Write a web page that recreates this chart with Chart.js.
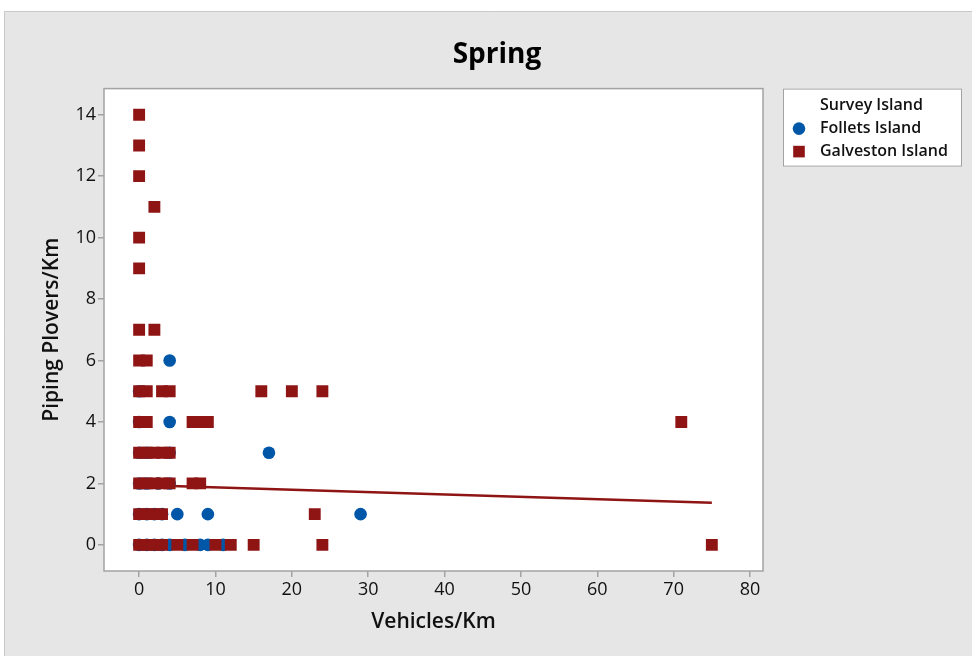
<!DOCTYPE html>
<html>
<head>
<meta charset="utf-8">
<title>Spring</title>
<script src="https://cdn.jsdelivr.net/npm/chart.js@4.4.1/dist/chart.umd.min.js"></script>
<style>
  html, body { margin: 0; padding: 0; background: #ffffff; }
  canvas { display: block; }
</style>
</head>
<body>
<canvas id="chart" width="972" height="656"></canvas>
<script>
// Survey counts per km of beach: vehicles vs. piping plovers
const follettsVehicles = [4, 0, 0, 4, 0, 1, 4, 17, 0, 1, 2.5, 4, 0, 1, 2, 3, 5, 9, 29, 0, 1, 2, 3, 4, 6, 8, 9, 11];
const follettsPlovers  = [6, 5, 4, 4, 3, 3, 3, 3,  2, 2, 2,   2, 1, 1, 1, 1, 1, 1, 1,  0, 0, 0, 0, 0, 0, 0, 0, 0];

const galvestonVehicles = [0, 0, 0, 2, 0, 0, 0, 2,
                           0, 1,
                           0, 1, 3, 4, 16, 20, 24,
                           0, 1, 7, 8, 9, 71,
                           0, 1, 2, 3, 4,
                           0, 1, 2, 3, 4, 7, 8,
                           0, 1, 2, 3, 23,
                           0, 1, 2, 3, 5, 7, 10, 12, 15, 24, 75];
const galvestonPlovers  = [14, 13, 12, 11, 10, 9, 7, 7,
                           6, 6,
                           5, 5, 5, 5, 5, 5, 5,
                           4, 4, 4, 4, 4, 4,
                           3, 3, 3, 3, 3,
                           2, 2, 2, 2, 2, 2, 2,
                           1, 1, 1, 1, 1,
                           0, 0, 0, 0, 0, 0, 0, 0, 0, 0, 0];

// Fitted regression line end points
const fitVehicles = [0, 75];
const fitPlovers  = [1.95, 1.37];

const xTickValues = [0, 10, 20, 30, 40, 50, 60, 70, 80];
const yTickValues = [0, 2, 4, 6, 8, 10, 12, 14];

const legendTitle = 'Survey Island';
const FOLLETS_BLUE = '#0057a8';
const GALVESTON_RED = '#8f1414';
const AXIS_GRAY = '#a3a3a3';
const TEXT = '#111111';
const FONT = "'Open Sans', 'Noto Sans', sans-serif";

const pairs = (xs, ys) => xs.map((x, i) => ({ x, y: ys[i] }));

// Gray page frame, white plotting panel and its border
const framePlugin = {
  id: 'frame',
  beforeDraw(chart) {
    const { ctx, chartArea: a, width, height } = chart;
    ctx.save();
    ctx.fillStyle = '#ffffff';
    ctx.fillRect(0, 0, width, height);
    ctx.fillStyle = '#e6e6e6';
    ctx.fillRect(4, 11, width - 4, height - 11);
    ctx.strokeStyle = '#c9c9c9';
    ctx.lineWidth = 1;
    ctx.beginPath();
    ctx.moveTo(4.5, height);
    ctx.lineTo(4.5, 11.5);
    ctx.lineTo(width, 11.5);
    ctx.stroke();
    ctx.fillStyle = '#ffffff';
    ctx.fillRect(a.left, a.top, a.right - a.left, a.bottom - a.top);
    ctx.restore();
  },
  afterDatasetsDraw(chart) {
    const { ctx, chartArea: a } = chart;
    ctx.save();
    ctx.strokeStyle = AXIS_GRAY;
    ctx.lineWidth = 1.5;
    ctx.strokeRect(a.left, a.top, a.right - a.left, a.bottom - a.top);
    ctx.restore();
  }
};

// Boxed legend to the right of the plotting panel
const islandLegendPlugin = {
  id: 'islandLegend',
  afterDraw(chart) {
    const { ctx, chartArea: a } = chart;
    const left = a.right + 20, top = a.top, w = 179, h = 78;
    ctx.save();
    ctx.fillStyle = '#ffffff';
    ctx.fillRect(left, top, w, h);
    ctx.strokeStyle = AXIS_GRAY;
    ctx.lineWidth = 1;
    ctx.strokeRect(left + 0.5, top + 0.5, w - 1, h - 1);

    ctx.font = `600 16px ${FONT}`;
    ctx.fillStyle = TEXT;
    ctx.textBaseline = 'middle';
    ctx.textAlign = 'left';
    const textX = left + 37;
    ctx.fillText(legendTitle, textX, top + 17);

    const items = chart.data.datasets.filter(d => d.inLegend);
    items.forEach((ds, i) => {
      const cy = top + 40 + i * 23;
      const cx = left + 16;
      ctx.fillStyle = ds.backgroundColor;
      if (ds.pointStyle === 'circle') {
        ctx.beginPath();
        ctx.arc(cx, cy, 6.3, 0, Math.PI * 2);
        ctx.fill();
      } else {
        ctx.fillRect(cx - 5.8, cy - 5.8, 11.6, 11.6);
      }
      ctx.fillStyle = TEXT;
      ctx.fillText(ds.label, textX, cy);
    });
    ctx.restore();
  }
};

const tickGrid = {
  display: true,
  drawOnChartArea: false,
  drawTicks: true,
  tickLength: 6,
  color: AXIS_GRAY,
  lineWidth: 1.5
};

new Chart(document.getElementById('chart'), {
  type: 'scatter',
  data: {
    datasets: [
      {
        label: 'Follets Island',
        inLegend: true,
        data: pairs(follettsVehicles, follettsPlovers),
        pointStyle: 'circle',
        pointRadius: 6.3,
        backgroundColor: FOLLETS_BLUE,
        borderWidth: 0,
        pointBorderWidth: 0,
        order: 1
      },
      {
        label: 'Galveston Island',
        inLegend: true,
        data: pairs(galvestonVehicles, galvestonPlovers),
        pointStyle: 'rect',
        pointRadius: 8.4,
        backgroundColor: GALVESTON_RED,
        borderWidth: 0,
        pointBorderWidth: 0,
        order: 0
      },
      {
        label: 'Fit',
        type: 'line',
        data: pairs(fitVehicles, fitPlovers),
        borderColor: GALVESTON_RED,
        borderWidth: 2.5,
        pointRadius: 0,
        fill: false,
        showLine: true,
        order: 2
      }
    ]
  },
  options: {
    responsive: false,
    animation: false,
    events: [],
    layout: { padding: { left: 22, right: 0, top: 0, bottom: 0 } },
    plugins: {
      legend: { display: false },
      tooltip: { enabled: false },
      title: {
        display: true,
        text: 'Spring',
        color: '#000000',
        font: { family: FONT, size: 28, weight: '700' },
        padding: { top: 38, bottom: 17 }
      }
    },
    scales: {
      x: {
        type: 'linear',
        position: 'bottom',
        min: -4.6,
        max: 81.7,
        afterBuildTicks: s => { s.ticks = xTickValues.map(v => ({ value: v })); },
        afterFit: s => { s.height = 85; },
        grid: tickGrid,
        border: { display: false },
        ticks: { color: TEXT, font: { family: FONT, size: 18 }, padding: 2, maxRotation: 0, autoSkip: false },
        title: {
          display: true,
          text: 'Vehicles/Km',
          color: TEXT,
          font: { family: FONT, size: 21, weight: '600' },
          padding: { top: 0, bottom: 21 }
        }
      },
      y: {
        type: 'linear',
        position: 'left',
        min: -0.85,
        max: 14.85,
        afterBuildTicks: s => { s.ticks = yTickValues.map(v => ({ value: v })); },
        afterFit: s => { s.width = 82; },
        grid: tickGrid,
        border: { display: false },
        ticks: { color: TEXT, font: { family: FONT, size: 18 }, padding: 2, autoSkip: false },
        title: {
          display: true,
          text: 'Piping Plovers/Km',
          color: TEXT,
          font: { family: FONT, size: 21, weight: '600' },
          padding: { top: 17, bottom: 0 }
        }
      },
      // empty right-hand gutter that holds the legend box
      legendGutter: {
        type: 'linear',
        position: 'right',
        display: true,
        grid: { display: false },
        border: { display: false },
        ticks: { display: false },
        afterFit: s => { s.width = 209; }
      }
    }
  },
  plugins: [framePlugin, islandLegendPlugin]
});
</script>
</body>
</html>
